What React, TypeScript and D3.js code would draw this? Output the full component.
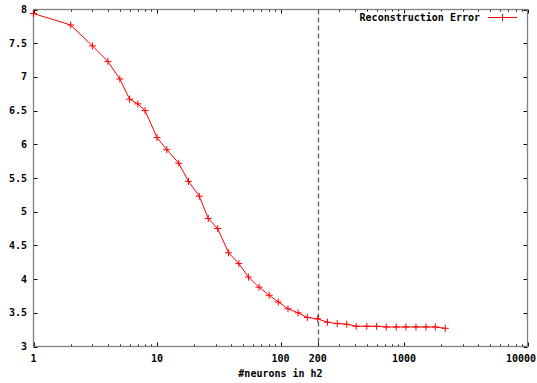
import { useEffect, useRef } from 'react';
import * as d3 from 'd3';

// #neurons in h2 (log axis) and the reconstruction error
const neurons = [1, 2, 3, 4, 5, 6, 7, 8, 10, 12, 15, 18, 22, 26, 31, 38, 46, 55, 67, 81, 96, 115, 139, 165, 200, 240, 288, 344, 410, 500, 600, 718, 865, 1037, 1250, 1507, 1794, 2160];
const reconError = [7.94, 7.77, 7.46, 7.23, 6.97, 6.67, 6.6, 6.5, 6.1, 5.92, 5.72, 5.45, 5.23, 4.9, 4.75, 4.39, 4.23, 4.03, 3.88, 3.76, 3.66, 3.56, 3.5, 3.43, 3.41, 3.36, 3.34, 3.33, 3.3, 3.3, 3.3, 3.29, 3.29, 3.29, 3.29, 3.29, 3.29, 3.27];

const xMajorTicks = [1, 10, 100, 1000, 10000];
const markerAt = 200;
const yTicks = [3, 3.5, 4, 4.5, 5, 5.5, 6, 6.5, 7, 7.5, 8];
const seriesLabel = 'Reconstruction Error';
const xTitle = '#neurons in h2';

const W = 537;
const H = 383;
const FONT = '"DejaVu Sans Mono", monospace';

export default function App() {
  const ref = useRef<SVGSVGElement | null>(null);
  useEffect(() => {
    const svg = d3.select(ref.current!);
    svg.selectAll('*').remove();
    const left = 33.5, right = 527.5, top = 9.5, bottom = 346.5;

    const x = d3.scaleLog().domain([1, 10000]).range([left, right]);
    const y = d3.scaleLinear().domain([3, 8]).range([bottom, top]);

    const txt = (sel: d3.Selection<SVGTextElement, unknown, null, undefined>) =>
      sel.attr('font-family', FONT).attr('font-weight', 'bold').attr('font-size', 10).attr('fill', '#000');

    // ticks (bottom/top for x, left/right for y)
    const ticks = svg.append('g').attr('stroke', '#000').attr('stroke-width', 1);
    const minor: number[] = [];
    for (let d = 1; d < 10000; d *= 10) for (let k = 2; k <= 9; k++) minor.push(d * k);
    minor.forEach((v) => {
      const px = Math.round(x(v)) + 0.5;
      ticks.append('line').attr('x1', px).attr('x2', px).attr('y1', bottom).attr('y2', bottom - 2);
      ticks.append('line').attr('x1', px).attr('x2', px).attr('y1', top).attr('y2', top + 2);
    });
    [...xMajorTicks, markerAt].forEach((v) => {
      const px = Math.round(x(v)) + 0.5;
      ticks.append('line').attr('x1', px).attr('x2', px).attr('y1', bottom).attr('y2', bottom - 4);
      ticks.append('line').attr('x1', px).attr('x2', px).attr('y1', top).attr('y2', top + 4);
    });
    yTicks.forEach((v) => {
      const py = Math.round(y(v)) + 0.5;
      ticks.append('line').attr('x1', left).attr('x2', left + 4).attr('y1', py).attr('y2', py);
      ticks.append('line').attr('x1', right).attr('x2', right - 4).attr('y1', py).attr('y2', py);
    });

    // frame
    svg.append('rect').attr('x', left).attr('y', top).attr('width', right - left).attr('height', bottom - top)
      .attr('fill', 'none').attr('stroke', '#808080').attr('stroke-width', 1.3);

    // tick labels
    yTicks.forEach((v) => {
      svg.append('text').call(txt).attr('x', 27).attr('y', y(v)).attr('dy', '0.35em').attr('text-anchor', 'end').text(String(v));
    });
    [...xMajorTicks, markerAt].forEach((v) => {
      const label = String(v);
      const half = (label.length * 6.02) / 2;
      const cx = Math.min(x(v), W - 1 - half);
      svg.append('text').call(txt).attr('x', cx).attr('y', 362).attr('text-anchor', 'middle').text(label);
    });
    svg.append('text').call(txt).attr('x', (left + right) / 2).attr('y', 377).attr('text-anchor', 'middle').text(xTitle);

    // dashed marker at 200
    const mx = Math.round(x(markerAt)) + 0.5;
    svg.append('line').attr('x1', mx).attr('x2', mx).attr('y1', top).attr('y2', bottom)
      .attr('stroke', '#606060').attr('stroke-width', 1.3).attr('stroke-dasharray', '5,3');

    // series
    const line = d3.line<number>().x((_, i) => x(neurons[i])).y((d) => y(d));
    svg.append('path').datum(reconError).attr('d', line).attr('fill', 'none').attr('stroke', '#ff0000').attr('stroke-width', 1);
    const plus = (cx: number, cy: number) => `M${cx - 3.5},${cy}h7M${cx},${cy - 3.5}v7`;
    svg.append('path')
      .attr('d', reconError.map((d, i) => plus(x(neurons[i]), y(d))).join(''))
      .attr('fill', 'none').attr('stroke', '#ff0000').attr('stroke-width', 1);

    // legend
    svg.append('text').call(txt).attr('x', 480).attr('y', 17.5).attr('dy', '0.35em').attr('text-anchor', 'end').text(seriesLabel);
    svg.append('line').attr('x1', 488).attr('x2', 517).attr('y1', 17.5).attr('y2', 17.5).attr('stroke', '#ff0000').attr('stroke-width', 1);
    svg.append('path').attr('d', plus(502.5, 17.5)).attr('stroke', '#ff0000').attr('stroke-width', 1);
  }, []);
  return <svg ref={ref} width={W} height={H} style={{ position: 'absolute', left: 0, top: 0, background: '#fff' }} />;
}
